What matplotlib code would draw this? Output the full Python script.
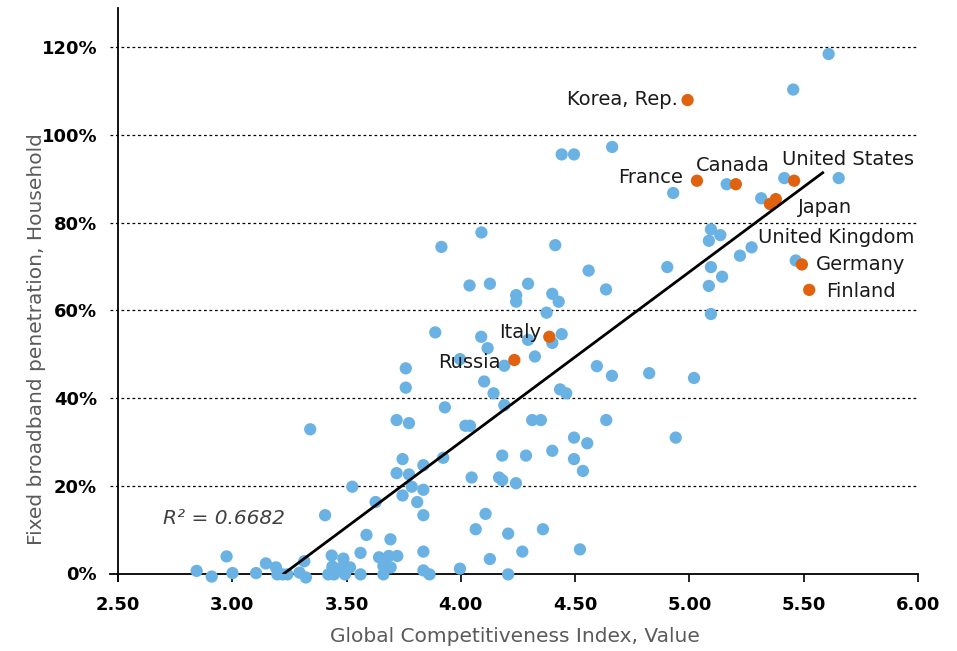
import matplotlib
matplotlib.use("Agg")
import matplotlib.pyplot as plt
import numpy as np

# ---------------- data ----------------
gci_other = [
    5.609, 5.454, 4.441, 4.495, 4.662, 4.929, 5.163, 5.415, 5.653, 5.314,
    5.094, 5.135, 5.085, 5.272, 5.221, 5.465, 4.903, 5.094, 5.143, 5.085,
    5.094, 4.635, 4.559, 4.413, 4.090, 3.915, 4.038, 4.127, 4.294, 4.242,
    4.242, 4.400, 4.428, 4.375, 3.888, 4.089, 4.441, 4.294, 4.400, 4.117,
    3.996, 4.324, 4.190, 3.759, 3.759, 4.102, 4.143, 4.595, 4.661, 4.824,
    5.020, 4.434, 4.461, 4.190, 3.930, 3.719, 3.773, 3.341, 4.020, 4.040,
    4.312, 4.350, 4.636, 4.495, 4.553, 4.940, 4.400, 3.745, 3.836, 3.923,
    3.719, 3.773, 4.181, 4.285, 4.495, 4.534, 4.047, 4.167, 4.181, 4.241,
    3.785, 3.836, 3.525, 3.745, 3.627, 3.809, 3.406, 3.836, 4.108, 4.065,
    4.359, 4.207, 3.587, 3.692, 3.836, 4.269, 4.521, 4.127, 3.996, 4.207,
    3.836, 3.863,
    2.844, 2.910, 2.975, 3.001, 3.104, 3.147, 3.191, 3.197, 3.220, 3.241,
    3.294, 3.315, 3.322, 3.420, 3.435, 3.438, 3.445, 3.471, 3.486, 3.493,
    3.515, 3.561, 3.561, 3.642, 3.685, 3.722, 3.661, 3.693, 3.661,
]
bb_other = [
    118.5, 110.4, 95.6, 95.6, 97.3, 86.8, 88.8, 90.2, 90.2, 85.6,
    78.5, 77.2, 75.9, 74.4, 72.5, 71.4, 69.9, 69.9, 67.7, 65.6,
    59.2, 64.8, 69.1, 74.9, 77.8, 74.5, 65.7, 66.1, 66.1, 63.5,
    62.0, 63.8, 62.0, 59.5, 55.0, 54.0, 54.6, 53.3, 52.6, 51.4,
    48.9, 49.5, 47.4, 46.8, 42.4, 43.8, 41.1, 47.3, 45.1, 45.7,
    44.6, 42.0, 41.1, 38.4, 37.9, 35.0, 34.3, 32.9, 33.7, 33.7,
    35.0, 35.0, 35.0, 31.0, 29.7, 31.0, 28.0, 26.1, 24.7, 26.4,
    22.9, 22.6, 26.9, 26.9, 26.1, 23.4, 21.9, 21.9, 21.3, 20.6,
    19.8, 19.1, 19.8, 17.8, 16.3, 16.3, 13.3, 13.3, 13.6, 10.1,
    10.1, 9.1, 8.8, 7.8, 5.0, 5.0, 5.5, 3.3, 1.1, -0.2,
    0.7, -0.2,
    0.6, -0.7, 3.9, 0.1, 0.1, 2.3, 1.4, -0.2, -0.2, -0.2,
    0.2, 2.8, -0.9, -0.2, 4.1, 1.6, -0.2, 1.2, 3.4, -0.2,
    1.4, 4.7, -0.2, 3.7, 4.0, 4.0, 1.7, 1.4, -0.2,
]

countries = ["Korea, Rep.", "France", "Canada", "United States", "Japan",
             "United Kingdom", "Germany", "Finland", "Italy", "Russia"]
gci_hl = [4.992, 5.033, 5.203, 5.458, 5.378, 5.352, 5.492, 5.524, 4.387, 4.234]
bb_hl = [108.0, 89.6, 88.8, 89.6, 85.4, 84.3, 70.5, 64.7, 54.0, 48.7]

# linear trendline
trend_slope = 38.8
trend_intercept = -125.2
trend_x_range = [3.226, 5.583]
r_squared = "0.6682"

x_ticks = [2.5, 3.0, 3.5, 4.0, 4.5, 5.0, 5.5, 6.0]
y_ticks = [0, 20, 40, 60, 80, 100, 120]

# ---------------- styling ----------------
BLUE = "#6AB2E3"
ORANGE = "#E0620F"
GREY = "#5A5A5A"
plt.rcParams["font.family"] = ["DejaVu Sans"]

W, H = 957, 651
fig = plt.figure(figsize=(W / 100, H / 100), dpi=100)
x0_px, x1_px = 118, 918
y0_px, y1_px = 573.5, 8
ax = fig.add_axes([x0_px / W, (H - y0_px) / H, (x1_px - x0_px) / W, (y0_px - y1_px) / H])
ax.set_xlim(2.5, 6.0)
ax.set_ylim(0, 129)

px_x = 3.5 / (x1_px - x0_px)   # data units per pixel (x)
px_y = 129 / (y0_px - y1_px)   # data units per pixel (y)

# gridlines (dotted) extending a little left of the axis
for yv in y_ticks[1:]:
    ax.plot([2.5 - 8 * px_x, 6.0], [yv, yv], color="black", lw=0.9,
            ls=(0, (2.2, 2.2)), clip_on=False, zorder=1)

# spines
for s in ["top", "right"]:
    ax.spines[s].set_visible(False)
ax.spines["left"].set_linewidth(1.3)
ax.spines["bottom"].set_linewidth(1.3)
ax.spines["left"].set_bounds(-7 * px_y, 129)
ax.spines["bottom"].set_bounds(2.5 - 8 * px_x, 6.0)

ax.set_xticks(x_ticks)
ax.set_xticklabels([f"{v:.2f}" for v in x_ticks], fontsize=13, fontweight="bold")
ax.set_yticks(y_ticks)
ax.set_yticklabels([f"{v}%" for v in y_ticks], fontsize=13, fontweight="bold")
ax.tick_params(axis="x", direction="out", length=6, width=1.2, pad=10)
ax.tick_params(axis="y", length=0, pad=15)

# scatter
ax.scatter(gci_other, bb_other, s=78, color=BLUE, edgecolors="none",
           zorder=3, clip_on=False)
ax.scatter(gci_hl, bb_hl, s=78, color=ORANGE, edgecolors="none",
           zorder=4, clip_on=False)

# trendline
tx = np.array(trend_x_range)
ax.plot(tx, trend_slope * tx + trend_intercept, color="black", lw=2.0, zorder=5)

# country labels: (ha, dx_px, dy_px)
label_style = {
    "Korea, Rep.": ("right", -10, 1),
    "France": ("right", -14, 3),
    "Canada": ("center", -3, 19),
    "United States": ("left", -12, 21),
    "Japan": ("left", 22, -8),
    "United Kingdom": ("left", -12, -34),
    "Germany": ("left", 14, 0),
    "Finland": ("left", 17, -2),
    "Italy": ("right", -8, 4),
    "Russia": ("right", -14, -2),
}
for name, xv, yv in zip(countries, gci_hl, bb_hl):
    ha, dx, dy = label_style[name]
    ax.annotate(name, (xv, yv), xytext=(dx * 0.72, dy * 0.72),
                textcoords="offset points", ha=ha, va="center",
                fontsize=14, color="#1A1A1A", zorder=6)

ax.text((163 - x0_px) / (x1_px - x0_px), (y0_px - 519) / (y0_px - y1_px),
        f"R² = {r_squared}", transform=ax.transAxes, ha="left", va="center",
        fontsize=14.5, style="italic", color="#404040")

fig.text(515 / W, 1 - 637 / H, "Global Competitiveness Index, Value",
         ha="center", va="center", fontsize=14.5, color=GREY)
fig.text(37 / W, 1 - 339 / H, "Fixed broadband penetration, Household",
         ha="center", va="center", rotation=90, fontsize=14.5, color=GREY)

fig.savefig("out.png", dpi=100)
